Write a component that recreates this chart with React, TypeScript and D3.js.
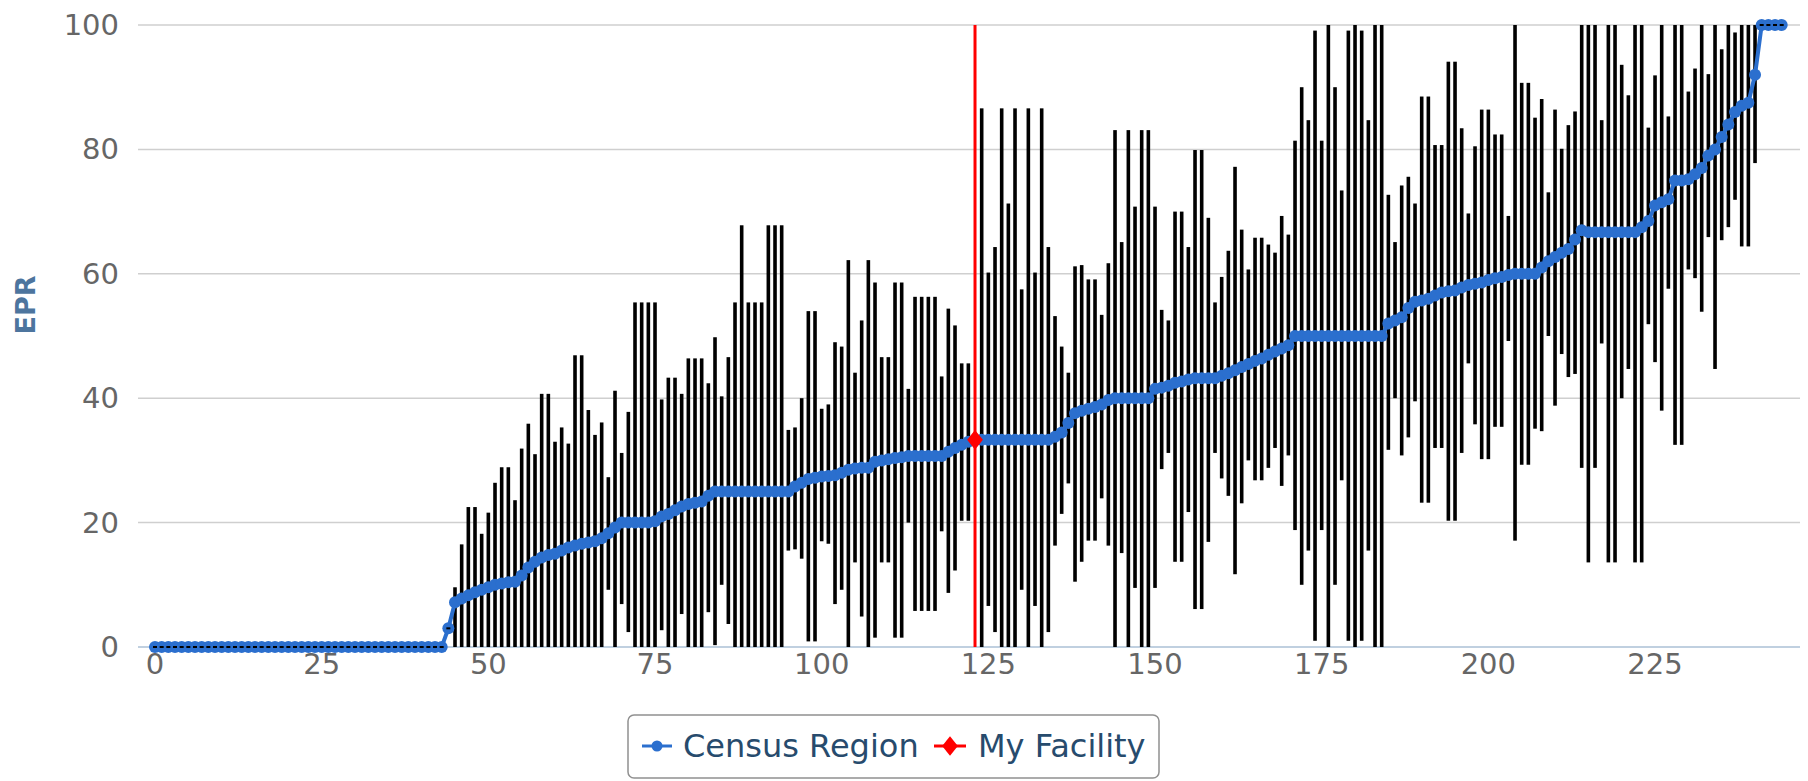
import React from "react";
import * as d3 from "d3";

const WIDTH = 1808;
const HEIGHT = 781;
const PLOT_LEFT = 138;
const PLOT_RIGHT = 1800;
const FONT = "'DejaVu Sans', Verdana, sans-serif";
const BLUE = "#2b6fce";

// Census Region EPR, one value per facility rank (0..244)
const censusEpr = [
  0, 0, 0, 0, 0, 0, 0, 0, 0, 0, 0, 0, 0, 0, 0, 0, 0, 0, 0, 0, 0, 0,
  0, 0, 0, 0, 0, 0, 0, 0, 0, 0, 0, 0, 0, 0, 0, 0, 0, 0, 0, 0, 0, 0,
  3, 7.2, 7.8, 8.3, 8.8, 9.2, 9.6, 10, 10.2, 10.4, 10.5, 11.5, 12.8, 13.7, 14.4, 14.8,
  15, 15.5, 16, 16.3, 16.6, 16.8, 17, 17.5, 18.3, 19.2, 20, 20, 20, 20, 20, 20.2,
  21, 21.4, 22, 22.6, 23, 23.2, 23.4, 24.3, 25, 25, 25, 25, 25, 25, 25, 25,
  25, 25, 25, 25, 25.8, 26.4, 27, 27.2, 27.4, 27.5, 27.6, 28, 28.5, 28.7, 28.8, 28.8,
  29.8, 30, 30.2, 30.4, 30.5, 30.7, 30.7, 30.7, 30.7, 30.7, 30.7, 31.4, 32, 32.5, 33, 33.3,
  33.3, 33.3, 33.3, 33.3, 33.3, 33.3, 33.3, 33.3, 33.3, 33.3, 33.3, 33.8, 34.5, 36, 37.6, 38,
  38.3, 38.6, 39, 39.7, 40, 40, 40, 40, 40, 40, 41.5, 41.7, 42, 42.5, 42.7, 43,
  43.2, 43.2, 43.2, 43.2, 43.6, 44, 44.5, 45, 45.5, 46, 46.4, 47, 47.5, 48, 48.5, 50,
  50, 50, 50, 50, 50, 50, 50, 50, 50, 50, 50, 50, 50, 52, 52.5, 53,
  54.5, 55.5, 55.7, 56, 56.5, 57, 57.2, 57.3, 57.8, 58.2, 58.4, 58.6, 59, 59.3, 59.5, 59.8,
  60, 60, 60, 60, 61, 62, 62.7, 63.4, 64, 65.5, 67, 66.7, 66.7, 66.7, 66.7, 66.7,
  66.7, 66.7, 66.7, 67.5, 68.5, 71, 71.5, 72, 75, 75, 75.2, 76, 77, 79, 80, 82,
  84, 86, 87, 87.5, 92, 100, 100, 100, 100,
];

// error bars start at rank 45; rank 123 sits under the facility line
const FIRST_BAR = 45;
const barLow = [
  0, 0, 0, 0, 0, 0, 0, 0, 0, 0, 0, 0, 0, 0, 0, 0, 0, 0, 0, 0, 0, 0, 0,
  9.2, 0, 6.9, 2.4, 0, 0, 0, 0, 2.7, 0, 0, 5.3, 0, 0, 0, 5.6, 0.3, 10, 3.7,
  0, 0, 0, 0, 0, 0, 0, 0, 15.5, 15.7, 14.2, 0.9, 0.9, 17, 16.6, 6.9, 9.2, 0,
  13.6, 4.9, 0, 1.5, 13.6, 13.6, 1.5, 1.5, 20, 5.8, 5.8, 5.8, 5.8, 18.6, 8.7, 12.3,
  20.3, 20.3, null, 0, 6.6, 2.4, 0, 0, 0, 9.2, 0, 6.6, 0, 2.4, 16.3, 21.4,
  26.3, 10.5, 13.7, 17.1, 17.1, 23.9, 16.3, 0, 15.1, 0, 9.5, 0, 0, 9.5, 28.6, 31.2,
  13.7, 13.7, 21.7, 6.1, 6.1, 16.9, 31.2, 27.1, 24.3, 11.7, 23.1, 30, 26.8, 26.8, 28.8, 32,
  25.9, 30.8, 18.8, 10, 15.5, 1, 18.8, 0, 10, 26.8, 1, 0, 1, 15.5, 0, 0,
  31.7, 40, 30.8, 33.7, 39.5, 23.2, 23.2, 32, 32, 20.3, 20.3, 31.2, 45.6, 35.8, 30.2, 30.2,
  35.4, 35.4, 49.2, 17.1, 29.3, 29.3, 35.1, 34.7, 50, 38.8, 47.1, 43.4, 43.9, 28.8, 13.6, 28.8,
  48.8, 13.6, 13.6, 40, 44.7, 13.6, 13.6, 51.9, 45.8, 38, 57.6, 32.5, 32.5, 60.7, 59.3, 53.9,
  65.9, 44.7, 65.4, 67.5, 71.9, 64.4, 64.4, 77.8,
];
const barHigh = [
  9.6, 16.5, 22.5, 22.5, 18.2, 21.6, 26.4, 28.9, 28.9, 23.6, 31.9, 35.9, 31, 40.7, 40.7, 33,
  35.3, 32.7, 46.9, 46.9, 38.1, 34.1, 36.1, 27.3, 41.2, 31.2, 37.8, 55.4, 55.4, 55.4, 55.4, 39.8,
  43.3, 43.3, 40.7, 46.4, 46.4, 46.4, 42.4, 49.8, 40.3, 46.6, 55.4, 67.8, 55.4, 55.4, 55.4, 67.8,
  67.8, 67.8, 34.9, 35.3, 40, 54, 54, 38.3, 39, 49, 48.3, 62.2, 44.1, 52.5, 62.2, 58.6,
  46.6, 46.6, 58.6, 58.6, 41.5, 56.3, 56.3, 56.3, 56.3, 43.5, 54.4, 51.7, 45.6, 45.6, null, 86.6,
  60.2, 64.3, 86.6, 71.3, 86.6, 57.5, 86.6, 60.2, 86.6, 64.3, 53.2, 48.3, 44.1, 61.2, 61.4, 59.1,
  59.1, 53.4, 61.7, 83.1, 65.1, 83.1, 70.8, 83.1, 83.1, 70.8, 54.2, 52.5, 70, 70, 64.3, 79.9,
  79.9, 69, 55.4, 59.5, 63.7, 77.2, 67.1, 60.7, 65.8, 65.8, 64.7, 63.4, 69.3, 66.3, 81.4, 90,
  84.7, 99.1, 81.4, 100, 90, 73.4, 99.1, 100, 99.1, 84.7, 100, 100, 72.7, 65.1, 74.2, 75.6,
  71.3, 88.5, 88.5, 80.7, 80.7, 94.1, 94.1, 83.4, 69.7, 80.5, 86.4, 86.4, 82.4, 82.4, 69.3, 100,
  90.7, 90.7, 85.1, 88.1, 73.1, 86.4, 80.1, 83.9, 86.1, 100, 100, 100, 84.7, 100, 100, 93.6,
  88.7, 100, 100, 83.5, 91.9, 100, 85.3, 100, 100, 89.3, 93, 100, 92.1, 100, 96.1, 100,
  98.8, 100, 100, 100,
];

const facilityRank = 123;
const facilityEpr = 33.3;

const yTicks = [0, 20, 40, 60, 80, 100];
const xTicks = [0, 25, 50, 75, 100, 125, 150, 175, 200, 225];
const legendItems = ["Census Region", "My Facility"];

export default function App() {
  const x = d3.scaleLinear().domain([0, 244]).range([155, 1781.7]);
  const y = d3.scaleLinear().domain([0, 100]).range([647, 25]);

  const line = d3
    .line<number>()
    .x((_, i) => x(i))
    .y((d) => y(d));

  // bars with a real range
  const bars = barHigh.map((hi, k) => {
    const lo = barLow[k];
    if (hi == null || lo == null) return null;
    const i = FIRST_BAR + k;
    return (
      <rect
        key={"b" + i}
        x={x(i) - 1.8}
        y={y(hi)}
        width={3.6}
        height={y(lo) - y(hi)}
        fill="#000"
      />
    );
  });

  // ranks without a bar get a flat whisker
  const flatWhiskers = censusEpr.map((v, i) => {
    const k = i - FIRST_BAR;
    if (k >= 0 && k < barHigh.length) return null;
    return (
      <rect key={"w" + i} x={x(i) - 2} y={y(v) - 1} width={4} height={2} fill="#000" />
    );
  });

  const diamond = d3.symbol(d3.symbolDiamond, 110)();

  return (
    <div style={{ position: "absolute", left: 0, top: 0 }}>
      <svg width={WIDTH} height={HEIGHT} style={{ display: "block", background: "#fff" }}>
        {yTicks.map((t) => (
          <g key={"y" + t}>
            {t > 0 && (
              <line
                x1={PLOT_LEFT}
                x2={PLOT_RIGHT}
                y1={y(t)}
                y2={y(t)}
                stroke="#cfcfcf"
                strokeWidth={1.5}
              />
            )}
            <text
              x={119}
              y={y(t) + 10}
              textAnchor="end"
              fontFamily={FONT}
              fontSize={29}
              fill="#666"
            >
              {t}
            </text>
          </g>
        ))}
        <line x1={PLOT_LEFT} x2={PLOT_RIGHT} y1={y(0)} y2={y(0)} stroke="#c0d0e0" strokeWidth={2} />
        {xTicks.map((t) => (
          <text
            key={"x" + t}
            x={x(t)}
            y={674}
            textAnchor="middle"
            fontFamily={FONT}
            fontSize={29}
            fill="#666"
          >
            {t}
          </text>
        ))}
        <text
          transform={`translate(35,${y(55)}) rotate(-90)`}
          textAnchor="middle"
          fontFamily={FONT}
          fontSize={27}
          fontWeight="bold"
          fill="#4d759e"
        >
          EPR
        </text>

        {bars}

        <path d={line(censusEpr) || ""} fill="none" stroke={BLUE} strokeWidth={4} />
        {censusEpr.map((v, i) => (
          <circle key={"p" + i} cx={x(i)} cy={y(v)} r={6} fill={BLUE} />
        ))}
        {flatWhiskers}

        <line
          x1={x(facilityRank)}
          x2={x(facilityRank)}
          y1={y(0)}
          y2={y(100)}
          stroke="#ff0000"
          strokeWidth={3}
        />
        <path
          d={diamond || ""}
          transform={`translate(${x(facilityRank)},${y(facilityEpr)}) scale(1.4,1)`}
          fill="#ff0000"
        />

        <g>
          <rect
            x={628}
            y={715}
            width={531}
            height={63}
            rx={6}
            fill="#fff"
            stroke="#909090"
            strokeWidth={1.5}
          />
          <line x1={642} x2={672} y1={746} y2={746} stroke={BLUE} strokeWidth={3} />
          <circle cx={657} cy={746} r={5.5} fill={BLUE} />
          <text x={683} y={757} fontFamily={FONT} fontSize={32} fill="#274b6d">
            {legendItems[0]}
          </text>
          <line x1={934} x2={966} y1={746} y2={746} stroke="#ff0000" strokeWidth={3} />
          <path d={diamond || ""} transform={`translate(950,746) scale(1.4,1)`} fill="#ff0000" />
          <text x={978} y={757} fontFamily={FONT} fontSize={32} fill="#274b6d">
            {legendItems[1]}
          </text>
        </g>
      </svg>
    </div>
  );
}
